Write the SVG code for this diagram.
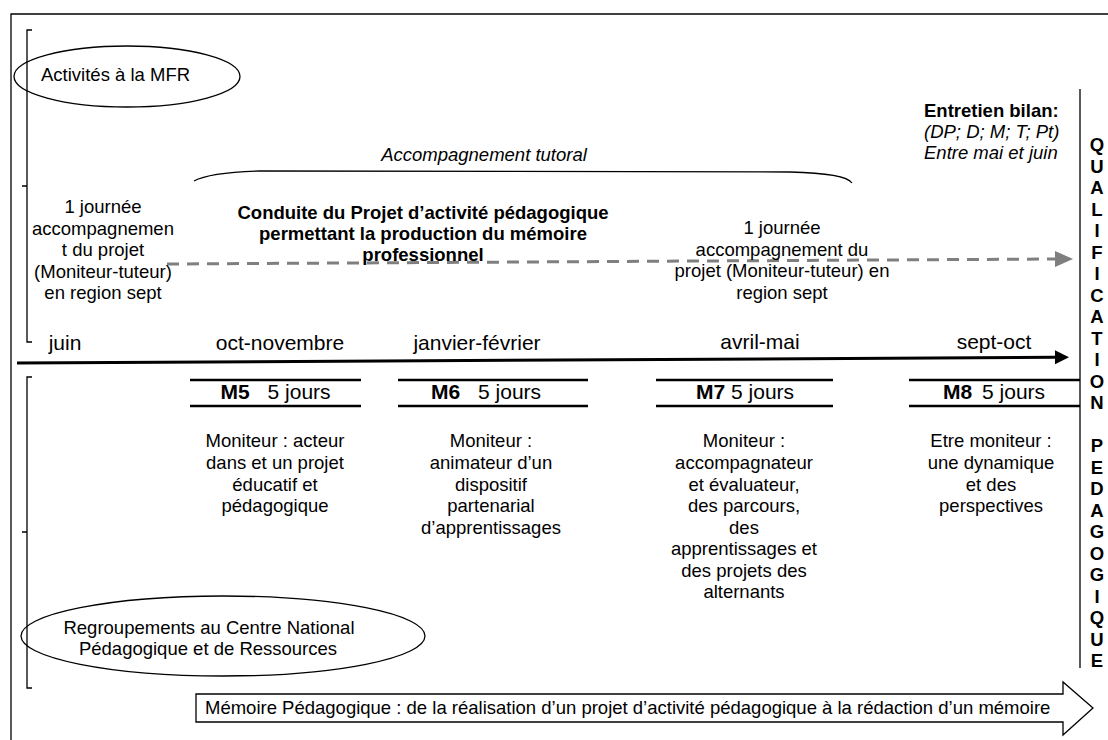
<svg xmlns="http://www.w3.org/2000/svg" width="1108" height="740" viewBox="0 0 1108 740">
<defs>
<style>
text{font-family:"Liberation Sans",Arial,Helvetica,sans-serif;fill:#000}
.b{font-size:18.5px;text-anchor:middle}
.l{font-size:18.5px}
.m{font-size:21px;text-anchor:middle}
.h{font-size:21px;text-anchor:middle}
.bold{font-weight:bold}
.it{font-style:italic}
.ln{stroke:#000;stroke-width:1.3;fill:none}
.hd{stroke:#000;stroke-width:2.5;fill:none}
.q{font-size:18.5px;font-weight:bold;text-anchor:middle}
</style>
<marker id="ah" markerWidth="10" markerHeight="10" refX="0" refY="5" orient="auto" markerUnits="userSpaceOnUse" viewBox="0 0 10 10" overflow="visible">
<path d="M0,-2 L14,5 L0,12 Z" fill="#000"/>
</marker>
<marker id="ag" markerWidth="10" markerHeight="10" refX="0" refY="5" orient="auto" markerUnits="userSpaceOnUse" viewBox="0 0 10 10" overflow="visible">
<path d="M-1,-3 L17,5 L-1,13 Z" fill="#7f7f7f"/>
</marker>
</defs>
<rect width="1108" height="740" fill="#fff"/>

<!-- frame -->
<path class="ln" d="M11,740 L11,14 L1108,14"/>

<!-- brackets -->
<path class="ln" d="M32,30 L27,30 L27,342 L32,342 M22,186 L27,186"/>
<path class="ln" d="M32,377 L27,377 L27,688 L32,688 M22,532 L27,532"/>

<g id="connectors">
<line x1="17" y1="363" x2="1055" y2="357.3" stroke="#000" stroke-width="3" marker-end="url(#ah)"/>
<line x1="167" y1="264" x2="1056" y2="259" stroke="#7f7f7f" stroke-width="3" stroke-dasharray="12 8" marker-end="url(#ag)"/>
<path class="ln" d="M194,181 C205,175 225,172 260,171 L790,172 C830,173 848,177 852,183"/>
<line x1="1080" y1="89" x2="1080" y2="668" stroke="#000" stroke-width="1.3"/>
</g>

<g id="mfr">
<ellipse cx="127" cy="76.5" rx="113" ry="30.5" class="ln"/>
<text x="41" y="81" class="l">Activités à la MFR</text>
</g>

<g id="accompagnement">
<text x="484" y="161" class="b it">Accompagnement tutoral</text>
</g>

<g id="journee1">
<text class="b"><tspan x="103" y="213">1 journée</tspan><tspan x="103" y="234.5">accompagnemen</tspan><tspan x="103" y="256">t du projet</tspan><tspan x="103" y="277.5">(Moniteur-tuteur)</tspan><tspan x="103" y="299">en region sept</tspan></text>
</g>

<g id="conduite">
<text class="b bold"><tspan x="423" y="219">Conduite du Projet d’activité pédagogique</tspan><tspan x="423" y="240">permettant la production du mémoire</tspan><tspan x="423" y="261">professionnel</tspan></text>
</g>

<g id="journee2">
<text class="b"><tspan x="782" y="234">1 journée</tspan><tspan x="782" y="255.5">accompagnement du</tspan><tspan x="782" y="277">projet (Moniteur-tuteur) en</tspan><tspan x="782" y="298.5">region sept</tspan></text>
</g>

<g id="entretien">
<text class="l"><tspan x="924" y="117" class="bold">Entretien bilan:</tspan><tspan x="924" y="138" class="it">(DP; D; M; T; Pt)</tspan><tspan x="924" y="159" class="it">Entre mai et juin</tspan></text>
</g>

<g id="months">
<text x="65" y="350" class="m">juin</text>
<text x="280" y="350" class="m">oct-novembre</text>
<text x="477" y="350" class="m">janvier-février</text>
<text x="760" y="349" class="m">avril-mai</text>
<text x="994" y="349" class="m">sept-oct</text>
</g>

<g id="m5">
<path class="hd" d="M190,380 L361,380 M190,406 L361,406"/>
<text x="275.5" y="399" class="h"><tspan class="bold">M5</tspan><tspan dx="18">5 jours</tspan></text>
<text class="b"><tspan x="275" y="447">Moniteur : acteur</tspan><tspan x="275" y="469">dans et un projet</tspan><tspan x="275" y="490.5">éducatif et</tspan><tspan x="275" y="512">pédagogique</tspan></text>
</g>

<g id="m6">
<path class="hd" d="M398,380 L588,380 M398,406 L588,406"/>
<text x="486" y="399" class="h"><tspan class="bold">M6</tspan><tspan dx="18">5 jours</tspan></text>
<text class="b"><tspan x="491" y="447">Moniteur :</tspan><tspan x="491" y="469">animateur d’un</tspan><tspan x="491" y="490.5">dispositif</tspan><tspan x="491" y="512">partenarial</tspan><tspan x="491" y="533.5">d’apprentissages</tspan></text>
</g>

<g id="m7">
<path class="hd" d="M656,380 L833,380 M656,406 L833,406"/>
<text x="745" y="399" class="h"><tspan class="bold">M7</tspan><tspan dx="6">5 jours</tspan></text>
<text class="b"><tspan x="744" y="447">Moniteur :</tspan><tspan x="744" y="469">accompagnateur</tspan><tspan x="744" y="490.5">et évaluateur,</tspan><tspan x="744" y="512">des parcours,</tspan><tspan x="744" y="533.5">des</tspan><tspan x="744" y="555">apprentissages et</tspan><tspan x="744" y="576.5">des projets des</tspan><tspan x="744" y="598">alternants</tspan></text>
</g>

<g id="m8">
<path class="hd" d="M909,380 L1080,380 M909,406 L1080,406"/>
<text x="994" y="399" class="h"><tspan class="bold">M8</tspan><tspan dx="10">5 jours</tspan></text>
<text class="b"><tspan x="991" y="447">Etre moniteur :</tspan><tspan x="991" y="469">une dynamique</tspan><tspan x="991" y="490.5">et des</tspan><tspan x="991" y="512">perspectives</tspan></text>
</g>

<g id="cnpr">
<ellipse cx="223" cy="636" rx="202" ry="40" class="ln"/>
<text class="b"><tspan x="209" y="634">Regroupements au Centre National</tspan><tspan x="208" y="655">Pédagogique et de Ressources</tspan></text>
</g>

<g id="memoire">
<path class="ln" d="M196,694 L1063,694 L1063,682 L1093,708 L1063,735 L1063,722 L196,722 Z"/>
<text x="205" y="714" class="l">Mémoire Pédagogique : de la réalisation d’un projet d’activité pédagogique à la rédaction d’un mémoire</text>
</g>

<g id="qualification">
<text class="q"><tspan x="1097" y="151">Q</tspan><tspan x="1097" dy="21.5">U</tspan><tspan x="1097" dy="21.5">A</tspan><tspan x="1097" dy="21.5">L</tspan><tspan x="1097" dy="21.5">I</tspan><tspan x="1097" dy="21.5">F</tspan><tspan x="1097" dy="21.5">I</tspan><tspan x="1097" dy="21.5">C</tspan><tspan x="1097" dy="21.5">A</tspan><tspan x="1097" dy="21.5">T</tspan><tspan x="1097" dy="21.5">I</tspan><tspan x="1097" dy="21.5">O</tspan><tspan x="1097" dy="21.5">N</tspan><tspan x="1097" dy="43">P</tspan><tspan x="1097" dy="21.5">E</tspan><tspan x="1097" dy="21.5">D</tspan><tspan x="1097" dy="21.5">A</tspan><tspan x="1097" dy="21.5">G</tspan><tspan x="1097" dy="21.5">O</tspan><tspan x="1097" dy="21.5">G</tspan><tspan x="1097" dy="21.5">I</tspan><tspan x="1097" dy="21.5">Q</tspan><tspan x="1097" dy="21.5">U</tspan><tspan x="1097" dy="21.5">E</tspan></text>
</g>
</svg>
